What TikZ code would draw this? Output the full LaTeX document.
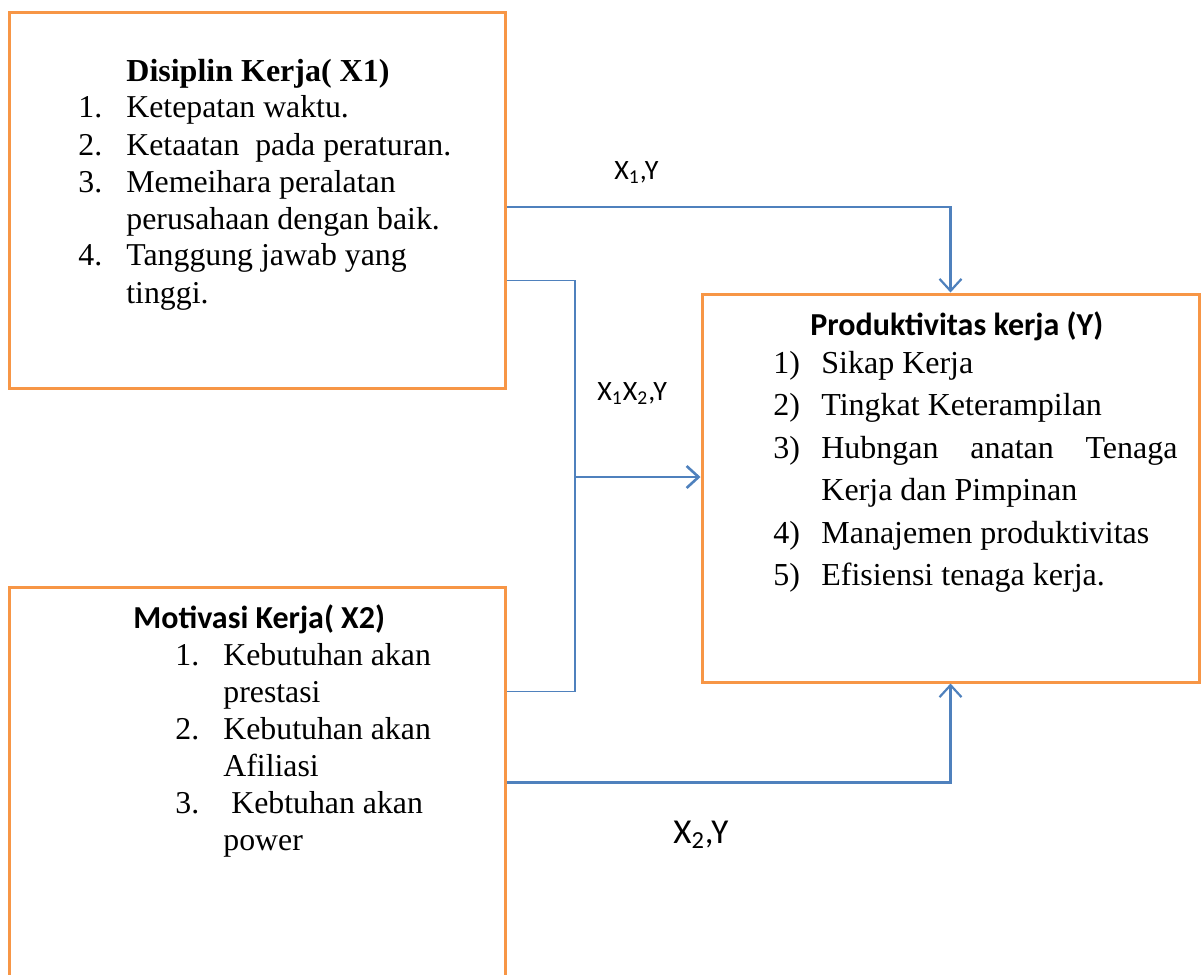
\documentclass[tikz,border=0pt]{standalone}
\usepackage{fontspec}
\setmainfont{Liberation Serif}
\newfontfamily\calibri{Carlito}
\usetikzlibrary{arrows.meta,positioning,calc}
\definecolor{boxorange}{HTML}{F79646}
\definecolor{lineblue}{HTML}{4F81BD}
\tikzset{
	box/.style={
		rectangle,
		draw=boxorange,
		line width=1.5pt,
		minimum width=248pt,
		inner sep=0pt,
	},
	link/.style={
		draw=lineblue,
		line width=1.1pt,
	},
	heading/.style={
		anchor=base west,
		inner sep=0pt,
		font=\calibri\bfseries\fontsize{16}{19}\selectfont,
	},
	items/.style={
		anchor=base west,
		inner sep=0pt,
		font=\fontsize{15.9}{18.5}\selectfont,
	},
	tag/.style={
		anchor=base west,
		inner sep=0pt,
		font=\calibri\fontsize{14}{16}\selectfont,
	},
}

\begin{document}
\begin{tikzpicture}[x=0.5pt, y=-0.5pt, >={Straight Barb[length=6pt,width=11pt]}]
	\useasboundingbox (0,0) rectangle (1202,974);

	\node [box, minimum height=187.5pt] (x1) at (257,200.5) {};
	\node [box, minimum height=206.5pt] (x2) at (257,793.5) {};
	\node [box, minimum width=248.5pt, minimum height=194pt] (y) at (950.5,488) {};

	\node [heading, font=\bfseries\fontsize{16}{19}\selectfont] (x1t) at (126,82) {Disiplin Kerja( X1)};
	\node [items] (x1l) at (78,118) {\begin{tabular}[t]{@{}p{24pt}@{}l@{}}
		1. & Ketepatan waktu.\\
		2. & Ketaatan\ \ pada peraturan.\\
		3. & Memeihara peralatan\\
		   & perusahaan dengan baik.\\
		4. & Tanggung jawab yang\\
		   & tinggi.
	\end{tabular}};

	\node [heading] (x2t) at (133,628) {Motivasi Kerja( X2)};
	\node [items] (x2l) at (175,665) {\begin{tabular}[t]{@{}p{24pt}@{}l@{}}
		1. & Kebutuhan akan\\
		   & prestasi\\
		2. & Kebutuhan akan\\
		   & Afiliasi\\
		3. & \ Kebtuhan akan\\
		   & power
	\end{tabular}};

	\node [heading] (yt) at (810,335) {Produktivitas kerja (Y)};
	\node [items, font=\fontsize{16}{21.25}\selectfont] (yl) at (773,373) {\begin{tabular}[t]{@{}p{24pt}@{}l@{}}
		1) & Sikap Kerja\\
		2) & Tingkat Keterampilan\\
		3) & \makebox[178pt][s]{Hubngan anatan Tenaga}\\
		   & Kerja dan Pimpinan\\
		4) & Manajemen produktivitas\\
		5) & Efisiensi tenaga kerja.
	\end{tabular}};

	\node [tag] (t1) at (614,179) {X\textsubscript{1},Y};
	\node [tag] (t12) at (597,400) {X\textsubscript{1}X\textsubscript{2},Y};
	\node [tag, font=\calibri\fontsize{17.5}{20}\selectfont] (t2) at (673,843) {X\textsubscript{2},Y};

	\coordinate (j) at (575,477);
	\draw [link, ->] ([yshift=-3.25pt]x1.east) -| (y.north);
	\draw [link, ->] ([yshift=-98.5pt]x2.north east) -| (y.south);
	\draw [link, line width=0.75pt] ([yshift=-134.5pt]x1.north east) -| (j) |- ([yshift=-53pt]x2.north east);
	\draw [link, ->, line width=1.3pt] (j) -- (j -| y.west);
\end{tikzpicture}
\end{document}
